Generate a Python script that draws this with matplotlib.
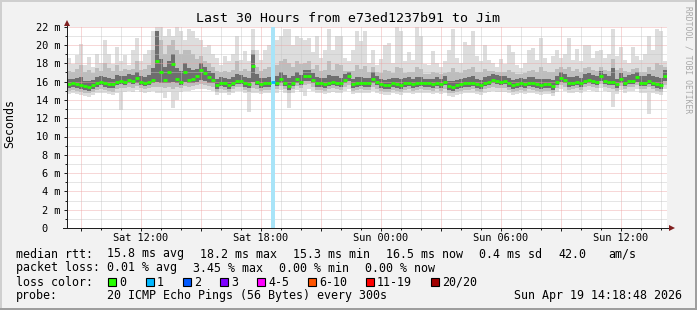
import numpy as np
import pandas as pd
import matplotlib
matplotlib.use("Agg")
import matplotlib.pyplot as plt
import matplotlib.dates as mdates
from matplotlib.patches import Rectangle
from matplotlib.ticker import MultipleLocator, FuncFormatter

plt.rcParams['font.family'] = ['DejaVu Sans Mono']

W, H = 697, 310

# 150 columns of 12 minutes, Sat 08:18:48 -> Sun 14:18:48
start = "2026-04-18 08:18:48"
n_cols = 150
col_minutes = 12

# rtt in ms, one value per column
median = [
    15.7, 15.8, 15.7, 15.6, 15.5, 15.4, 15.6, 15.8, 16.0, 15.8,
    15.7, 15.7, 16.0, 16.1, 16.0, 16.2, 16.1, 16.4, 16.0, 15.9,
    16.0, 16.2, 18.2, 17.1, 16.2, 17.0, 17.9, 16.3, 16.0, 17.1,
    16.2, 16.3, 16.6, 17.3, 16.9, 16.5, 16.2, 15.6, 15.9, 15.8,
    15.6, 15.9, 16.1, 16.1, 15.8, 15.7, 17.7, 16.0, 15.7, 15.8,
    15.8, 16.0, 15.9, 16.3, 15.9, 15.5, 15.9, 16.3, 16.0, 16.6,
    16.6, 16.2, 15.8, 15.8, 15.7, 15.9, 16.0, 15.9, 15.8, 16.2,
    16.6, 15.7, 15.8, 15.9, 15.8, 15.8, 16.3, 16.0, 15.7, 15.6,
    15.6, 15.8, 15.7, 15.6, 15.8, 15.9, 15.7, 15.8, 15.9, 15.8,
    15.8, 15.7, 15.9, 15.7, 16.0, 15.5, 15.4, 15.6, 15.7, 15.8,
    15.8, 15.9, 15.7, 15.6, 15.9, 16.0, 16.2, 16.1, 16.0, 16.1,
    15.8, 15.6, 15.7, 15.8, 15.7, 15.9, 15.8, 15.7, 15.6, 15.7,
    15.7, 15.5, 16.0, 16.4, 16.2, 15.8, 15.9, 16.0, 15.8, 16.1,
    16.2, 16.1, 16.0, 16.6, 16.1, 16.0, 16.0, 15.7, 16.3, 15.9,
    16.1, 16.1, 16.5, 15.9, 15.9, 16.1, 15.9, 15.7, 15.6, 16.6,
]

hi_max = [
    18.6, 17.9, 18.9, 20.1, 17.8, 18.7, 17.6, 19.0, 18.0, 20.6,
    19.0, 17.9, 19.8, 18.2, 18.9, 17.8, 19.5, 20.8, 18.2, 19.0,
    19.5, 21.5, 22.0, 22.0, 21.0, 21.8, 21.0, 22.0, 21.5, 20.5,
    21.8, 21.5, 20.8, 20.5, 19.8, 20.0, 19.0, 18.6, 17.8, 18.8,
    18.2, 19.0, 21.0, 18.4, 19.3, 18.2, 21.8, 19.5, 18.4, 19.5,
    20.0, 19.0, 20.5, 21.0, 21.8, 21.8, 20.0, 21.0, 20.8, 20.5,
    20.8, 19.2, 21.0, 18.6, 19.5, 21.8, 19.4, 21.0, 21.0, 18.6,
    18.2, 19.5, 21.5, 20.4, 21.5, 18.0, 19.5, 17.8, 18.5, 20.0,
    20.2, 18.0, 22.0, 21.5, 18.2, 19.2, 18.4, 22.0, 21.0, 17.9,
    17.8, 19.3, 18.0, 17.6, 18.2, 19.5, 21.8, 18.6, 18.0, 20.3,
    20.0, 21.5, 18.8, 18.2, 20.0, 18.4, 18.0, 17.6, 18.5, 17.9,
    20.0, 19.2, 17.8, 17.5, 18.0, 19.5, 19.7, 18.4, 20.8, 18.6,
    18.0, 18.8, 19.5, 18.6, 19.0, 20.8, 18.4, 19.6, 18.2, 20.0,
    20.0, 18.6, 19.3, 19.5, 18.6, 19.0, 21.8, 18.8, 19.8, 18.4,
    18.0, 19.8, 18.8, 18.4, 19.0, 21.0, 19.4, 21.8, 21.5, 18.2,
]

hi_mid = [
    17.2, 17.0, 17.4, 17.8, 17.0, 17.3, 16.9, 17.5, 17.2, 18.0,
    17.5, 17.2, 17.8, 17.2, 17.4, 17.3, 17.4, 18.2, 17.3, 17.4,
    17.8, 19.5, 21.5, 20.5, 19.0, 20.0, 20.5, 19.5, 19.0, 19.5,
    19.5, 19.0, 18.5, 18.8, 18.2, 18.0, 17.6, 17.2, 17.0, 17.2,
    17.1, 17.3, 18.2, 17.2, 17.4, 17.2, 19.5, 17.6, 17.2, 17.4,
    17.6, 17.3, 17.8, 18.2, 18.5, 18.0, 17.6, 18.2, 17.9, 18.0,
    18.2, 17.4, 17.8, 17.2, 17.3, 18.2, 17.3, 17.9, 17.8, 17.2,
    17.2, 17.2, 17.8, 17.4, 17.7, 17.0, 17.6, 17.0, 16.9, 17.3,
    17.2, 16.9, 17.6, 17.5, 16.9, 17.1, 17.0, 17.6, 17.4, 16.8,
    16.8, 17.1, 16.9, 16.8, 16.9, 17.0, 17.5, 17.0, 16.9, 17.3,
    17.4, 17.6, 17.1, 17.0, 17.4, 17.2, 17.2, 17.0, 17.1, 17.0,
    17.3, 17.1, 16.8, 16.8, 16.9, 17.2, 17.3, 17.1, 17.6, 17.2,
    17.0, 17.0, 17.4, 17.6, 17.4, 17.6, 17.2, 17.4, 17.1, 17.5,
    17.6, 17.3, 17.2, 17.6, 17.3, 17.2, 18.5, 17.3, 17.5, 17.2,
    17.1, 17.4, 17.5, 17.0, 17.1, 17.6, 17.3, 18.0, 17.8, 17.6,
]

hi_core = [
    16.3, 16.3, 16.4, 16.5, 16.1, 16.1, 16.2, 16.5, 16.6, 16.5,
    16.4, 16.3, 16.7, 16.6, 16.6, 16.8, 16.7, 17.0, 16.6, 16.5,
    16.7, 17.5, 21.5, 18.5, 17.6, 18.2, 19.0, 17.5, 17.2, 18.0,
    17.5, 17.3, 17.4, 18.0, 17.6, 17.2, 16.9, 16.3, 16.5, 16.4,
    16.3, 16.5, 16.8, 16.7, 16.5, 16.4, 19.0, 16.8, 16.4, 16.4,
    16.5, 16.6, 16.6, 17.0, 16.7, 16.4, 16.6, 17.0, 16.7, 17.3,
    17.3, 16.9, 16.5, 16.4, 16.4, 16.7, 16.6, 16.6, 16.4, 16.8,
    17.1, 16.3, 16.5, 16.5, 16.4, 16.4, 17.0, 16.6, 16.3, 16.2,
    16.3, 16.4, 16.4, 16.3, 16.4, 16.5, 16.3, 16.5, 16.5, 16.3,
    16.3, 16.3, 16.5, 16.3, 16.6, 16.1, 16.1, 16.2, 16.3, 16.4,
    16.5, 16.6, 16.3, 16.2, 16.5, 16.6, 16.8, 16.7, 16.6, 16.6,
    16.4, 16.2, 16.3, 16.4, 16.3, 16.5, 16.5, 16.3, 16.3, 16.3,
    16.3, 16.2, 16.6, 17.0, 16.8, 16.5, 16.5, 16.6, 16.4, 16.8,
    16.9, 16.7, 16.6, 17.2, 16.8, 16.6, 17.5, 16.3, 16.9, 16.5,
    16.7, 16.8, 17.1, 16.6, 16.6, 16.8, 16.6, 16.5, 16.4, 17.3,
]

lo_core = [
    15.3, 15.4, 15.3, 15.2, 15.1, 15.0, 15.2, 15.4, 15.6, 15.4,
    15.3, 15.3, 15.6, 15.7, 15.6, 15.8, 15.7, 15.9, 15.6, 15.5,
    15.6, 15.8, 16.0, 15.9, 15.8, 15.9, 16.0, 15.9, 15.6, 16.0,
    15.8, 15.9, 16.0, 16.2, 16.1, 15.9, 15.8, 15.2, 15.5, 15.4,
    15.2, 15.5, 15.7, 15.7, 15.4, 15.3, 16.0, 15.6, 15.3, 15.4,
    15.4, 15.5, 15.5, 15.9, 15.5, 15.1, 15.5, 15.9, 15.6, 16.1,
    16.1, 15.8, 15.4, 15.4, 15.3, 15.5, 15.6, 15.5, 15.4, 15.8,
    16.1, 15.3, 15.4, 15.5, 15.4, 15.4, 15.8, 15.6, 15.3, 15.2,
    15.2, 15.4, 15.3, 15.2, 15.4, 15.5, 15.3, 15.4, 15.5, 15.4,
    15.4, 15.3, 15.5, 15.3, 15.6, 15.1, 15.0, 15.2, 15.3, 15.4,
    15.4, 15.5, 15.3, 15.2, 15.5, 15.6, 15.8, 15.7, 15.6, 15.7,
    15.4, 15.2, 15.3, 15.4, 15.3, 15.5, 15.4, 15.3, 15.2, 15.3,
    15.3, 15.1, 15.6, 16.0, 15.8, 15.4, 15.5, 15.6, 15.4, 15.7,
    15.8, 15.7, 15.6, 16.1, 15.7, 15.6, 15.6, 15.3, 15.9, 15.5,
    15.7, 15.7, 16.0, 15.5, 15.5, 15.7, 15.5, 15.3, 15.2, 16.1,
]

lo_mid = [
    15.0, 15.1, 15.0, 14.9, 14.8, 14.7, 14.9, 15.1, 15.2, 15.1,
    15.0, 14.9, 15.2, 15.3, 15.3, 15.4, 15.3, 15.5, 15.3, 15.2,
    15.3, 15.4, 15.4, 15.4, 15.3, 15.4, 15.2, 15.4, 15.3, 15.5,
    15.4, 15.5, 15.6, 15.7, 15.6, 15.5, 15.4, 14.9, 15.2, 15.1,
    14.9, 15.2, 15.4, 15.4, 15.1, 14.9, 15.3, 15.2, 15.0, 15.1,
    15.1, 15.2, 15.2, 15.5, 15.2, 14.8, 15.2, 15.5, 15.3, 15.6,
    15.7, 15.4, 15.1, 15.1, 15.0, 15.2, 15.3, 15.2, 15.1, 15.4,
    15.6, 15.0, 15.1, 15.2, 15.1, 15.1, 15.4, 15.2, 15.0, 14.9,
    14.9, 15.1, 15.0, 14.9, 15.1, 15.2, 15.0, 15.1, 15.2, 15.1,
    15.1, 15.0, 15.2, 15.0, 15.2, 14.8, 14.7, 14.9, 15.0, 15.1,
    15.1, 15.2, 15.0, 14.9, 15.2, 15.3, 15.4, 15.3, 15.3, 15.3,
    15.1, 14.9, 15.0, 15.1, 15.0, 15.2, 15.1, 15.0, 14.9, 15.0,
    15.0, 14.8, 15.3, 15.6, 15.4, 15.1, 15.2, 15.3, 15.1, 15.4,
    15.5, 15.4, 15.3, 15.7, 15.4, 15.3, 15.2, 15.0, 15.5, 15.2,
    15.4, 15.4, 15.6, 15.2, 15.2, 15.4, 15.2, 15.0, 14.9, 15.6,
]

lo_min = [
    14.6, 14.7, 14.6, 14.5, 14.4, 14.3, 14.5, 14.7, 14.8, 14.7,
    14.6, 14.5, 14.8, 12.9, 14.9, 15.0, 14.9, 15.1, 14.9, 14.8,
    14.9, 15.0, 14.8, 14.8, 14.2, 14.9, 13.1, 14.0, 14.9, 15.0,
    15.0, 15.1, 15.2, 15.2, 15.2, 15.1, 15.0, 14.5, 14.8, 14.7,
    14.5, 14.8, 15.0, 15.0, 14.7, 12.7, 14.8, 14.8, 14.6, 14.7,
    14.7, 14.8, 14.8, 15.1, 14.8, 13.1, 14.8, 15.1, 14.9, 14.4,
    15.2, 15.0, 14.7, 14.7, 14.6, 14.8, 14.9, 14.8, 14.7, 15.0,
    15.2, 14.6, 14.7, 14.8, 14.7, 14.7, 15.0, 14.8, 14.6, 14.5,
    14.5, 14.7, 14.6, 14.5, 14.7, 14.8, 14.6, 14.7, 14.8, 14.7,
    14.7, 14.6, 14.8, 14.6, 14.8, 14.4, 14.3, 14.5, 14.6, 14.7,
    14.7, 14.8, 14.6, 14.5, 14.8, 14.9, 15.0, 14.9, 14.9, 14.9,
    14.7, 14.5, 14.6, 14.7, 14.6, 14.8, 14.7, 14.6, 14.5, 14.6,
    14.6, 14.4, 14.9, 15.2, 15.0, 14.7, 14.8, 14.9, 14.7, 15.0,
    15.1, 15.0, 14.9, 15.3, 15.0, 14.9, 13.2, 14.6, 15.1, 14.8,
    15.0, 15.0, 15.2, 14.8, 14.8, 12.5, 14.8, 14.6, 14.5, 15.2,
]

# lost pings per column (only one column lost a ping)
loss_col = [51]
loss_cnt = [1]

loss_labels = ["0", "1", "2", "3", "4-5", "6-10", "11-19", "20/20"]
loss_colors = ["#26ff00", "#00b8ff", "#0059ff", "#7e00ff",
               "#ff00ff", "#ff5500", "#ff0000", "#a10000"]

# ---------------------------------------------------------------
fig = plt.figure(figsize=(W / 100, H / 100), dpi=100, facecolor="#f2f2f2")

px_per_ms = 9.15
ax = fig.add_axes([67 / W, (H - 228) / H, 600 / W, 22 * px_per_ms / H])
ax.set_facecolor("white")

edges = mdates.date2num(pd.date_range(start, periods=n_cols + 1,
                                      freq=f"{col_minutes}min"))

def ext(a):
    return np.append(a, a[-1])

ax.fill_between(edges, ext(lo_min), ext(hi_max), step="post",
                color="#dddddd", lw=0, zorder=1)
ax.fill_between(edges, ext(lo_mid), ext(hi_mid), step="post",
                color="#bdbdbd", lw=0, zorder=1.1)
ax.fill_between(edges, ext(lo_core), ext(hi_core), step="post",
                color="#6e6e6e", lw=0, zorder=1.2)

loss = np.zeros(n_cols, dtype=int)
loss[loss_col] = loss_cnt
for k in np.nonzero(loss)[0]:
    ax.axvspan(edges[k], edges[k + 1], color="#a8e4f8", lw=0, zorder=2.6)

seg_colors = [loss_colors[l] for l in loss]
ax.hlines(median, edges[:-1], edges[1:], colors=seg_colors,
          linewidth=2.0, zorder=3)

ax.set_xlim(edges[0], edges[-1])
ax.set_ylim(0, 22)

def xfmt(v, pos):
    d = mdates.num2date(v)
    return d.strftime("%a %H:%M") if d.hour % 6 == 0 else ""

ax.xaxis.set_major_locator(mdates.HourLocator(byhour=range(0, 24, 3)))
ax.xaxis.set_minor_locator(mdates.HourLocator())
ax.xaxis.set_major_formatter(FuncFormatter(xfmt))
ax.yaxis.set_major_locator(MultipleLocator(2))
ax.yaxis.set_minor_locator(MultipleLocator(1))
ax.yaxis.set_major_formatter(FuncFormatter(
    lambda v, p: f"{v:.0f} m" if v > 0 else "0  "))

ax.set_axisbelow(False)
ax.grid(which="major", color="#eda3a3", alpha=0.85,
        linestyle=(0, (1, 1)), linewidth=0.72)
ax.grid(which="minor", color="#c4c4c4", alpha=0.85,
        linestyle=(0, (1, 1)), linewidth=0.72)

ax.tick_params(which="both", direction="out", width=0.72, color="#1f1f1f",
               labelsize=7.4)
ax.tick_params(which="major", length=2.2)
ax.tick_params(which="minor", length=1.4)
ax.tick_params(axis="y", pad=2.4)
ax.tick_params(axis="x", pad=1.6)

for s in ["top", "right"]:
    ax.spines[s].set_visible(False)
for s in ["left", "bottom"]:
    ax.spines[s].set_color("#1f1f1f")
    ax.spines[s].set_linewidth(0.72)

# axis extensions with arrow heads
ax.plot([-0.006, 1.006], [0, 0], color="#1f1f1f", lw=0.72,
        transform=ax.transAxes, clip_on=False, zorder=4)
ax.plot([0, 0], [0, 1.01], color="#1f1f1f", lw=0.72,
        transform=ax.transAxes, clip_on=False, zorder=4)
ax.plot([1.0085], [0], marker=">", ms=4.5, color="#801f1f", mew=0,
        transform=ax.transAxes, clip_on=False, zorder=5)
ax.plot([0], [1.018], marker="^", ms=4.5, color="#801f1f", mew=0,
        transform=ax.transAxes, clip_on=False, zorder=5)

# ---------------------------------------------------------------
def ftext(x, y, s, **kw):
    kw.setdefault("fontsize", 8.4)
    kw.setdefault("ha", "left")
    kw.setdefault("va", "center")
    fig.text(x / W, 1 - y / H, s, **kw)

ftext(347.5, 18, "Last 30 Hours from e73ed1237b91 to Jim",
      fontsize=9.5, ha="center")
ftext(10, 124, "Seconds", rotation=90, ha="center")
ftext(688, 6, "RRDTOOL / TOBI OETIKER", rotation=-90, fontsize=5.8,
      color="#a8a8a8", ha="center", va="top")

row1 = [(16, "median rtt:"), (107, "15.8 ms avg"), (200, "18.2 ms max"),
        (293, "15.3 ms min"), (386, "16.5 ms now"), (479, "0.4 ms sd"),
        (558, "42.0"), (608, "am/s")]
row2 = [(16, "packet loss:"), (107, "0.01 % avg"), (193, "3.45 % max"),
        (279, "0.00 % min"), (365, "0.00 % now")]
row4 = [(16, "probe:"), (107, "20 ICMP Echo Pings (56 Bytes) every 300s"),
        (514, "Sun Apr 19 14:18:48 2026")]
for x, s in row1:
    ftext(x, 254, s)
for x, s in row2:
    ftext(x, 268, s)
for x, s in row4:
    ftext(x, 296, s)

ftext(16, 282, "loss color:")
box_x = [108, 146, 183, 220, 257, 308, 366, 431]
for bx, lab, col in zip(box_x, loss_labels, loss_colors):
    fig.add_artist(Rectangle((bx / W, 1 - 286 / H), 8 / W, 8 / H,
                             transform=fig.transFigure, facecolor=col,
                             edgecolor="black", lw=0.8))
    ftext(bx + 11, 282, lab)

# 3D frame
for (x0, y0, w, h, c) in [(0, H - 2, W, 2, "#cfcfcf"), (0, 0, 2, H, "#cfcfcf"),
                          (0, 0, W, 2, "#9e9e9e"), (W - 2, 0, 2, H, "#9e9e9e")]:
    fig.add_artist(Rectangle((x0 / W, y0 / H), w / W, h / H,
                             transform=fig.transFigure, color=c, lw=0))

fig.savefig("out.png", dpi=100, facecolor="#f2f2f2")
